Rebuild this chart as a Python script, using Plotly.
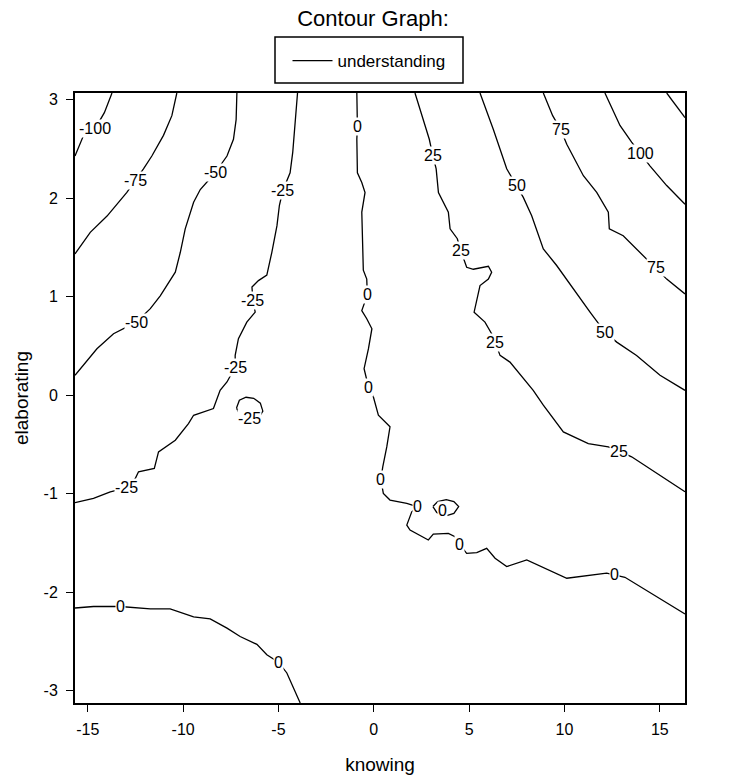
import plotly.graph_objects as go

# ---- contour lines of "understanding" (knowing, elaborating) ----
c_m100_x = [-13.73, -14.13, -14.61, -15.22, -15.67]
c_m100_y = [3.07, 2.87, 2.71, 2.64, 2.43]

c_m75_x = [-10.33, -10.59, -11.03, -11.64, -12.08, -12.51, -12.95, -13.99, -14.87, -15.67]
c_m75_y = [3.07, 2.84, 2.64, 2.43, 2.30, 2.18, 2.06, 1.82, 1.655, 1.436]

c_m50_x = [-7.18, -7.22, -7.36, -7.70, -8.32, -9.10, -9.45, -9.89, -10.15, -10.41, -11.20, -11.72, -12.46, -13.65, -14.52, -15.67]
c_m50_y = [3.07, 2.80, 2.60, 2.43, 2.26, 2.09, 1.96, 1.69, 1.45, 1.25, 1.01, 0.88, 0.743, 0.625, 0.473, 0.203]

c_m25_x = [-4.00, -4.12, -4.25, -4.39, -4.77, -4.95, -5.08, -5.35, -5.61, -6.05, -6.39, -6.34, -6.22, -6.66, -7.10, -7.27, -7.27,
           -7.70, -8.06, -8.41, -9.45, -9.72, -10.41, -11.29, -11.51, -12.34, -12.51, -12.98, -13.82, -14.70, -15.67]
c_m25_y = [3.07, 2.80, 2.47, 2.26, 2.08, 1.93, 1.72, 1.45, 1.22, 1.165, 1.10, 0.963, 0.844, 0.743, 0.575, 0.405, 0.287,
           0.135, 0.05, -0.135, -0.203, -0.287, -0.456, -0.575, -0.743, -0.777, -0.845, -0.94, -0.98, -1.047, -1.09]

c_m25b_x = [-7.20, -7.05, -6.70, -6.30, -5.95, -5.82, -6.10, -6.50, -6.90, -7.20]
c_m25b_y = [-0.13, -0.05, -0.02, -0.03, -0.08, -0.16, -0.25, -0.27, -0.24, -0.13]

c_0a_x = [-0.89, -0.86, -0.89, -0.86, -0.63, -0.46, -0.63, -0.58, -0.55, -0.37, -0.34, -0.63, -0.37, -0.10, -0.28, -0.51, -0.28,
          -0.02, 0.24, 0.85, 0.68, 0.47, 0.37, 0.50, 0.85, 1.73, 2.31, 1.99, 1.73, 1.90, 2.86, 3.12, 3.91, 4.26, 4.52,
          4.87, 5.40, 5.92, 6.36, 6.97, 8.02, 10.12, 12.21, 12.61, 13.17, 16.32]
c_0a_y = [3.07, 2.73, 2.60, 2.26, 2.16, 2.06, 1.86, 1.52, 1.27, 1.18, 1.02, 0.86, 0.777, 0.676, 0.473, 0.27, 0.084,
          -0.017, -0.203, -0.32, -0.524, -0.727, -0.855, -0.996, -1.064, -1.098, -1.132, -1.183, -1.318, -1.368, -1.47, -1.41, -1.402, -1.436, -1.52,
          -1.605, -1.598, -1.554, -1.655, -1.74, -1.672, -1.858, -1.807, -1.824, -1.848, -2.22]

c_0b_x = [3.10, 3.35, 3.80, 4.20, 4.45, 4.20, 3.70, 3.30, 3.10]
c_0b_y = [-1.13, -1.08, -1.06, -1.08, -1.13, -1.20, -1.23, -1.19, -1.13]

c_0c_x = [-15.67, -14.70, -13.30, -12.60, -11.72, -10.68, -9.45, -8.58, -7.70, -7.01, -6.13, -5.61, -5.00, -4.56, -3.86]
c_0c_y = [-2.16, -2.145, -2.145, -2.156, -2.17, -2.17, -2.25, -2.27, -2.365, -2.45, -2.53, -2.635, -2.71, -2.82, -3.125]

c_25_x = [2.16, 2.60, 2.91, 3.09, 3.27, 3.39, 3.91, 4.00, 4.38, 4.56, 4.87, 5.22, 6.01, 6.18, 6.01, 5.57, 5.40, 5.26, 5.83, 6.18,
          6.36, 6.62, 7.14, 7.84, 8.36, 8.89, 9.94, 11.25, 12.30, 12.87, 13.52, 16.32]
c_25_y = [3.07, 2.80, 2.60, 2.44, 2.30, 2.06, 1.86, 1.69, 1.59, 1.47, 1.30, 1.28, 1.31, 1.25, 1.18, 1.115, 0.946, 0.844, 0.743, 0.625,
          0.54, 0.405, 0.337, 0.17, 0.05, -0.10, -0.372, -0.49, -0.524, -0.568, -0.625, -0.98]

c_50_x = [5.57, 6.27, 6.97, 7.49, 7.84, 8.28, 8.89, 9.59, 10.46, 11.34, 12.12, 12.74, 13.78, 15.01, 16.32]
c_50_y = [3.07, 2.70, 2.30, 2.135, 2.01, 1.824, 1.487, 1.318, 1.08, 0.844, 0.642, 0.54, 0.405, 0.203, 0.05]

c_75_x = [8.89, 9.38, 9.80, 10.12, 10.99, 11.69, 12.30, 12.35, 13.08, 13.78, 14.78, 15.36, 16.32]
c_75_y = [3.07, 2.84, 2.70, 2.55, 2.23, 2.06, 1.86, 1.69, 1.62, 1.487, 1.30, 1.18, 1.03]

c_100_x = [12.12, 12.91, 13.52, 13.96, 14.48, 15.36, 16.32]
c_100_y = [3.07, 2.74, 2.57, 2.46, 2.33, 2.13, 1.94]

c_125_x = [15.36, 16.32]
c_125_y = [3.07, 2.82]

# contour labels
label_x = [-14.61, -12.51, -8.32, -12.46, -4.77, -6.34, -7.27, -12.98, -6.52,
           -0.86, -0.34, -0.28, 0.37, 2.31, 3.62, 4.52, 12.61, -13.30, -5.00,
           3.09, 4.56, 6.36, 12.87, 7.49, 12.12, 9.80, 14.78, 13.96]
label_y = [2.71, 2.18, 2.26, 0.743, 2.08, 0.963, 0.287, -0.94, -0.236,
           2.73, 1.02, 0.084, -0.855, -1.132, -1.165, -1.52, -1.824, -2.145, -2.71,
           2.44, 1.47, 0.54, -0.568, 2.135, 0.642, 2.70, 1.30, 2.46]
label_text = ["-100", "-75", "-50", "-50", "-25", "-25", "-25", "-25", "-25",
              "0", "0", "0", "0", "0", "0", "0", "0", "0", "0",
              "25", "25", "25", "25", "50", "50", "75", "75", "100"]

x_ticks = [-15, -10, -5, 0, 5, 10, 15]
x_tick_text = ["-15", "-10", "-5", "0", "5", "10", "15"]
y_ticks = [-3, -2, -1, 0, 1, 2, 3]
y_tick_text = ["-3", "-2", "-1", "0", "1", "2", "3"]

FONT = "Liberation Sans, Arial, sans-serif"

lines = [
    (c_m100_x, c_m100_y), (c_m75_x, c_m75_y), (c_m50_x, c_m50_y), (c_m25_x, c_m25_y),
    (c_m25b_x, c_m25b_y), (c_0a_x, c_0a_y), (c_0b_x, c_0b_y), (c_0c_x, c_0c_y),
    (c_25_x, c_25_y), (c_50_x, c_50_y), (c_75_x, c_75_y), (c_100_x, c_100_y), (c_125_x, c_125_y),
]

fig = go.Figure()
for i, (xs, ys) in enumerate(lines):
    fig.add_trace(go.Scatter(
        x=xs, y=ys, mode="lines", name="understanding",
        line=dict(color="black", width=1.3),
        showlegend=(i == 0), hoverinfo="skip",
    ))

for lx, ly, lt in zip(label_x, label_y, label_text):
    fig.add_annotation(x=lx, y=ly, text=lt, showarrow=False,
                       font=dict(family=FONT, size=16, color="black"),
                       bgcolor="white", borderpad=0)

W, H = 746, 784
L, T, PW, PH = 75, 93, 610, 610

def px(ax):
    return (ax - L) / PW

def py(ay):
    return (T + PH - ay) / PH

# legend frame
fig.add_shape(type="rect", xref="paper", yref="paper",
              x0=px(275), x1=px(463), y0=py(83), y1=py(37),
              line=dict(color="black", width=1.5), fillcolor="rgba(0,0,0,0)")

fig.update_layout(
    width=W, height=H,
    margin=dict(l=L, r=W - L - PW, t=T, b=H - T - PH, autoexpand=False),
    paper_bgcolor="white", plot_bgcolor="white",
    font=dict(family=FONT, color="black"),
    title=dict(text="Contour Graph:", x=373 / W, xref="container", xanchor="center",
               y=1 - 18 / H, yref="container", yanchor="middle",
               font=dict(family=FONT, size=22, color="black")),
    legend=dict(x=px(369), xanchor="center", y=py(61), yanchor="middle",
                borderwidth=0, bgcolor="rgba(0,0,0,0)",
                font=dict(family=FONT, size=17, color="black"),
                itemwidth=40),
    showlegend=True,
)
fig.update_xaxes(range=[-15.67, 16.32], tickvals=x_ticks, ticktext=x_tick_text, ticks="outside", ticklen=7, tickwidth=1.3,
                 tickcolor="black", showline=True, linecolor="black", linewidth=2, mirror=True,
                 showgrid=False, zeroline=False, ticklabelstandoff=4, automargin=False,
                 tickfont=dict(family=FONT, size=16, color="black"),
                 title=dict(text="knowing", font=dict(family=FONT, size=19, color="black"), standoff=20))
fig.update_yaxes(range=[-3.125, 3.07], tickvals=y_ticks, ticktext=y_tick_text, ticks="outside", ticklen=7, tickwidth=1.3,
                 tickcolor="black", showline=True, linecolor="black", linewidth=2, mirror=True,
                 showgrid=False, zeroline=False, ticklabelstandoff=5, automargin=False,
                 tickfont=dict(family=FONT, size=16, color="black"),
                 title=dict(text="elaborating", font=dict(family=FONT, size=19, color="black"), standoff=10))

# remove the default 8px page margin so the figure sits at the window's top-left corner
fig.write_html("out.html", config={"displayModeBar": False},
               post_script="document.body.style.margin='0px';")
